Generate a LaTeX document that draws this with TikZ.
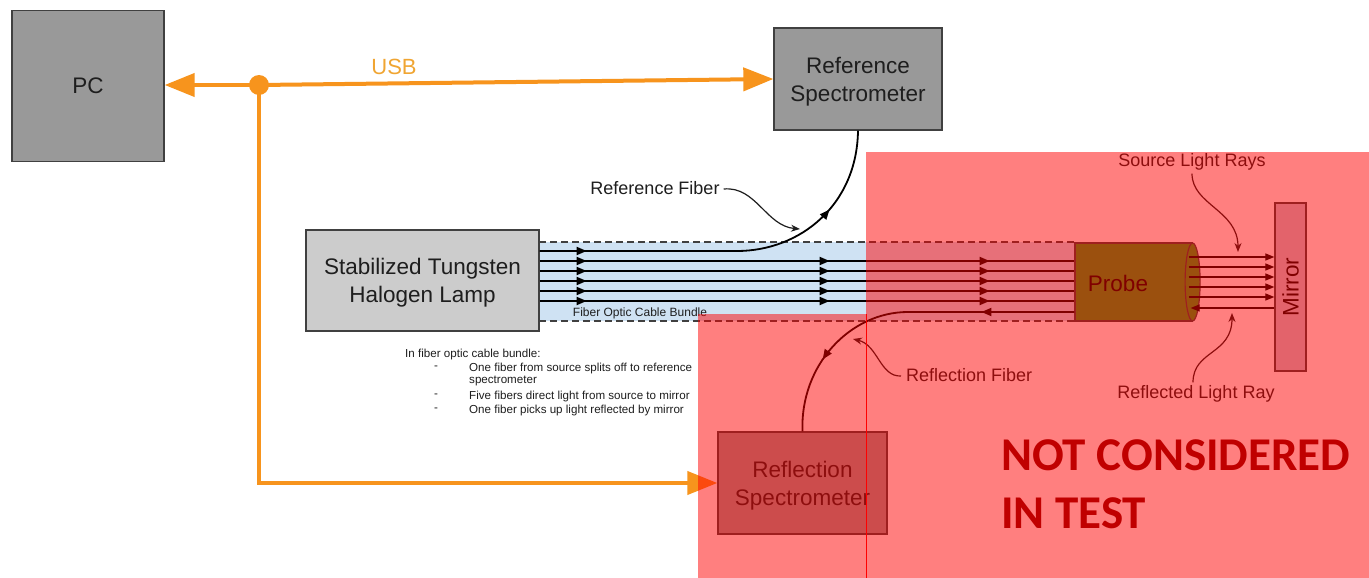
\documentclass[tikz,border=0pt]{standalone}
\usepackage{fontspec}
\setmainfont{Liberation Sans}
\newfontfamily\carlito{Carlito}
\usetikzlibrary{arrows.meta,decorations.markings,calc}
\definecolor{usborange}{RGB}{247,148,29}
\definecolor{usbtext}{RGB}{240,165,50}
\definecolor{boxgray}{RGB}{153,153,153}
\definecolor{lampgray}{RGB}{204,204,204}
\definecolor{edgegray}{RGB}{64,64,64}
\definecolor{bundleblue}{RGB}{207,226,243}
\definecolor{probegreen}{RGB}{56,162,30}
\definecolor{mirrorgray}{RGB}{200,200,215}
\definecolor{warnred}{RGB}{192,0,0}
\definecolor{txtgray}{RGB}{30,30,30}
\begin{document}
\begin{tikzpicture}[x=1pt,y=-1pt,
  box/.style={draw=edgegray, line width=1.3pt, rectangle, inner sep=0pt, align=center,
    font=\fontsize{22.5}{28}\selectfont, text=txtgray, text depth=0pt},
  usb/.style={draw=usborange, line width=4pt, -{Triangle[length=30pt,width=23pt]}},
  fiber/.style={line width=1.8pt, draw=black},
  fiberarrows/.style={postaction={decorate,decoration={markings,
    mark=at position 47pt with {\arrow{Triangle[length=10pt,width=8pt]}},
    mark=at position 290pt with {\arrow{Triangle[length=10pt,width=8pt]}},
    mark=at position 450pt with {\arrow{Triangle[length=10pt,width=8pt]}}}}},
  pointer/.style={draw=txtgray, line width=1.2pt, -{Stealth[length=9pt,width=7pt]}},
  ray/.style={draw=black, line width=1.2pt},
  lbl/.style={font=\fontsize{18}{20}\selectfont, text=txtgray, inner sep=0pt},
  note/.style={font=\fontsize{11.6}{13}\selectfont, text=txtgray, inner sep=0pt, anchor=west}
]
\useasboundingbox (0,0) rectangle (1369,578);
\fill[white] (0,0) rectangle (1369,578);

% boxes
\node[box, fill=boxgray, minimum width=152pt, minimum height=151pt] (pc) at (88,86) {PC};
\node[box, fill=boxgray, minimum width=168pt, minimum height=102pt] (refspec) at (858,79) {Reference\\Spectrometer};
\node[box, fill=boxgray, minimum width=169pt, minimum height=102pt] (reflspec) at (802.5,483) {Reflection\\Spectrometer};

% fiber bundle
\fill[bundleblue] (539,242) rectangle (1075,321);
\draw[edgegray, line width=1.2pt, dash pattern=on 7pt off 4pt] (539,242) -- (1075,242);
\draw[edgegray, line width=1.2pt, dash pattern=on 7pt off 4pt] (539,321) -- (1075,321);

\node[box, fill=lampgray, minimum width=233pt, minimum height=101pt] (lamp) at (422.5,280.5) {Stabilized Tungsten\\Halogen Lamp};

% probe
\node[draw=edgegray, line width=1.2pt, fill=probegreen, minimum width=117pt, minimum height=78pt, inner sep=0pt,
  label={[xshift=-15.5pt, yshift=-1pt, font=\fontsize{22.5}{26}\selectfont, text=black]center:Probe}] (probe) at (1133.5,282) {};
\coordinate (probeend) at (probe.east);
\draw[draw=edgegray, line width=1.2pt, fill=probegreen] (probeend) ellipse [x radius=7.5pt, y radius=39pt];

% mirror
\node[box, fill=mirrorgray, minimum width=31pt, minimum height=168pt] (mirror) at (1290.5,287) {};
\node[rotate=90, font=\fontsize{22.5}{26}\selectfont, text=black] at (mirror.center) {Mirror};

% fibers
\foreach \y in {261,271,281,291,301}
  \draw[fiber, fiberarrows] (lamp.east |- 0,\y) -- (probe.west |- 0,\y);
\draw[fiber, postaction={decorate,decoration={markings,
    mark=at position 47pt with {\arrow{Triangle[length=10pt,width=8pt]}},
    mark=at position 302pt with {\arrow{Triangle[length=10pt,width=8pt]}}}}]
  (lamp.east |- 0,251) -- (737,251) .. controls (800,251) and (857,205) .. (refspec.south);
\draw[fiber, postaction={decorate,decoration={markings,
    mark=at position 93pt with {\arrow{Triangle[length=10pt,width=8pt]}},
    mark=at position 268pt with {\arrow{Triangle[length=10pt,width=8pt]}}}}]
  (probe.west |- 0,312) -- (908,312) .. controls (850,312) and (800,365) .. (reflspec.north);

% rays
\foreach \y in {257,267,277,287,297}
  \draw[ray, -{Triangle[length=9pt,width=7pt]}] ([xshift=-4pt]probeend |- 0,\y) -- (mirror.west |- 0,\y);
\draw[ray, -{Triangle[length=9pt,width=7pt]}] (mirror.west |- 0,308) -- ([xshift=-2pt]probeend |- 0,308);

% USB
\fill[usborange] (259,85) circle (10pt) coordinate (hub);
\draw[usb] (hub) -- (pc.east |- hub);
\draw[usb] (hub) -- (refspec.west);
\draw[usb] (hub) -- (hub |- reflspec.west) -- (reflspec.west);
\node[font=\fontsize{22}{24}\selectfont, text=usbtext] (usblbl) at (394,67) {USB};

% labels
\node[lbl] (reffiberlbl) at (655,188) {Reference Fiber};
\draw[pointer] (reffiberlbl.east) ++(4,1) coordinate (rfp) (rfp) .. controls (756,186) and (766,226) .. (800,229);
\node[font=\fontsize{12}{14}\selectfont, text=txtgray, inner sep=0pt] (bundlelbl) at (640,313) {Fiber Optic Cable Bundle};
\node[lbl] (srclbl) at (1192,162) {Source Light Rays};
\draw[pointer] (srclbl.south) ++(0,3) coordinate (slp) (slp) .. controls (1192,205) and (1238,210) .. (1238,252);
\node[lbl] (refllbl) at (1196,394) {Reflected Light Ray};
\draw[pointer] (refllbl.north) ++(-3,-3) coordinate (rlp) (rlp) .. controls (1193,350) and (1232,355) .. (1232,313);
\node[lbl, anchor=west] (reflfiberlbl) at (906,375) {Reflection Fiber};
\draw[pointer] (reflfiberlbl.west) ++(-5,1) coordinate (rflp) (rflp) .. controls (880,377) and (878,345) .. (853,339);

% notes
\node[note] (n0) at (405,354) {In fiber optic cable bundle:};
\node[note] (d1) at (434,368) {-};
\node[note] (t1) at (469,368) {One fiber from source splits off to reference};
\node[note] (t1b) at (469,381) {spectrometer};
\node[note] (d2) at (434,396) {-};
\node[note] (t2) at (469,396) {Five fibers direct light from source to mirror};
\node[note] (d3) at (434,410) {-};
\node[note] (t3) at (469,410) {One fiber picks up light reflected by mirror};

% overlay
\fill[red, opacity=0.5] (698,314) -- (866,314) -- (866,152) -- (1369,152) -- (1369,578) -- (698,578) -- cycle;
\draw[red, line width=0.8pt] (866,314) -- (866,578);
\node[anchor=west, inner sep=0pt, font=\carlito\bfseries\fontsize{47}{52}\selectfont, text=warnred] (w1) at (1001,455) {NOT CONSIDERED};
\node[anchor=west, inner sep=0pt, font=\carlito\bfseries\fontsize{47}{52}\selectfont, text=warnred] (w2) at (1001,513) {IN TEST};
\end{tikzpicture}
\end{document}
